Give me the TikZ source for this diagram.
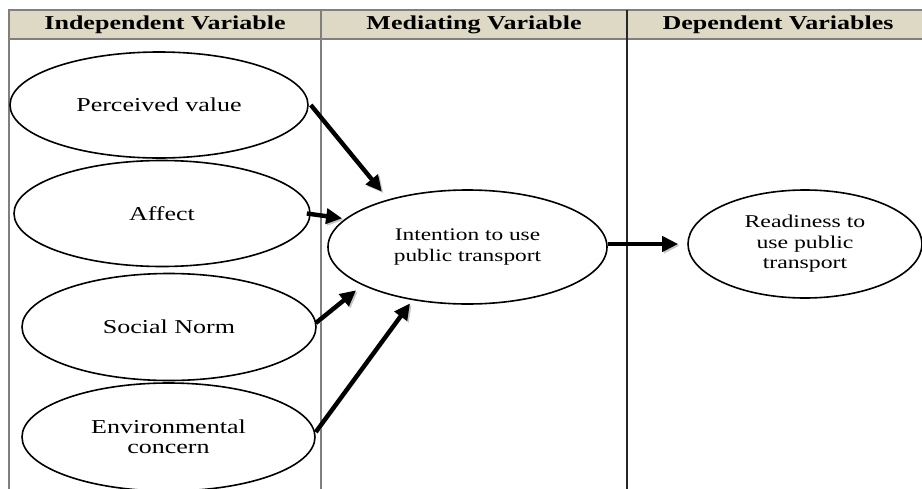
\documentclass[tikz,border=0pt]{standalone}
\usepackage{fontspec}
\setmainfont{Liberation Serif}[FakeStretch=1.32]
\usetikzlibrary{arrows.meta,shapes.geometric}
\definecolor{headfill}{HTML}{DDD9C4}
\definecolor{rulegray}{HTML}{7F7F7F}
\tikzset{
  oval/.style={ellipse, draw=black, line width=1.6pt, inner sep=0pt, align=center,
     font=\fontsize{19.7}{20.5}\selectfont},
  headtext/.style={font=\fontsize{19.7}{22}\selectfont\bfseries, inner sep=0pt},
  rule/.style={draw=rulegray, line width=1.1pt},
  arr/.style={line width=4.4pt, -{Triangle[length=16pt,width=15pt]},
     preaction={draw=black!22, transform canvas={shift={(1.6pt,-1.6pt)}}}}
}
\begin{document}
\begin{tikzpicture}[x=1pt,y=-1pt]
\useasboundingbox (0,0) rectangle (922,488);
% header
\fill[headfill] (9,10) rectangle (930,39);
\draw[rule] (930,10) -- (9,10) -- (9,495);
\draw[rule] (9,39) -- (930,39);
\draw[rule] (321,10) -- (321,495);
\draw[draw=black!85, line width=1.1pt] (627,10) -- (627,495);
\node[headtext] (h1) at (165,24.5) {Independent Variable};
\node[headtext] (h2) at (474,24.5) {Mediating Variable};
\node[headtext] (h3) at (778,24.5) {Dependent Variables};
% ellipses
\node[oval, minimum width=298pt, minimum height=106pt] (pv) at (159,105) {Perceived value};
\node[oval, minimum width=296pt, minimum height=106pt] (af) at (162,213.5) {Affect};
\node[oval, minimum width=294pt, minimum height=107pt] (sn) at (169,327) {Social Norm};
\node[oval, minimum width=293pt, minimum height=108pt] (ec) at (168.5,437) {Environmental\\concern};
\node[oval, minimum width=279pt, minimum height=114pt,
      font=\fontsize{17.7}{21.5}\selectfont] (in) at (467.5,247) {Intention to use\\public transport};
\node[oval, minimum width=234pt, minimum height=108pt,
      font=\fontsize{18}{20.5}\selectfont] (rd) at (805,244) {Readiness to\\use public\\transport};
% arrows
\draw[arr, shorten >=10pt] ([xshift=2pt]pv.east) -- (in.149);
\draw[arr, shorten >=3pt] ([xshift=-4pt]af.east) -- (in.167);
\draw[arr, shorten >=8pt] ([xshift=-1pt,yshift=4pt]sn.east) -- (in.200);
\draw[arr, shorten >=4pt] ([yshift=5pt]ec.east) -- (in.224);
\draw[arr, shorten >=9pt] (in.east |- rd.west) -- (rd.west);
\end{tikzpicture}
\end{document}
